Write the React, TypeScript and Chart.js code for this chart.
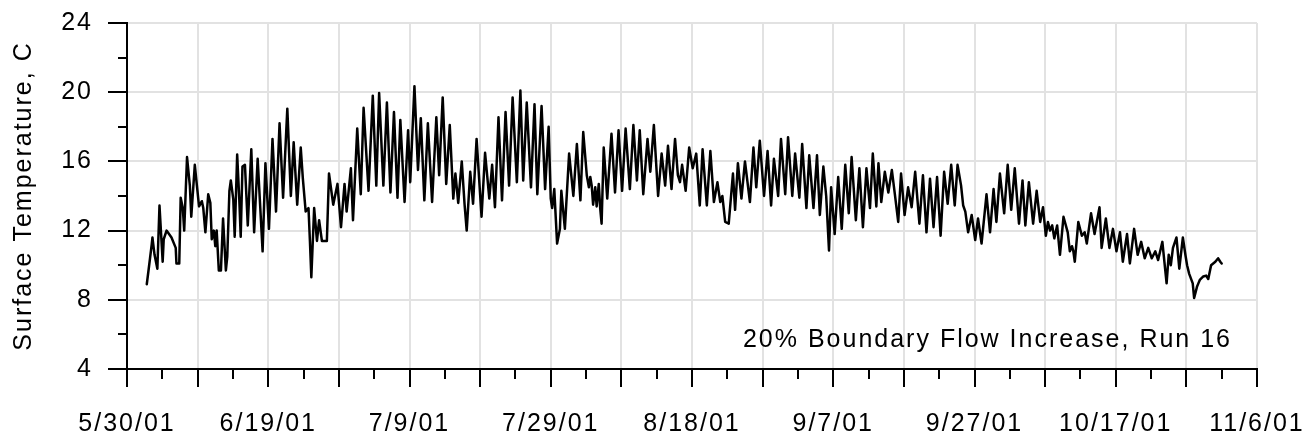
import React, { useEffect, useRef } from 'react';
import { Chart, registerables } from 'chart.js';

Chart.register(...registerables);

// ---- Text ----
const yAxisTitle = 'Surface Temperature, C';
const annotationText = '20% Boundary Flow Increase, Run 16';
const dateTickLabels = ['5/30/01', '6/19/01', '7/9/01', '7/29/01', '8/18/01', '9/7/01', '9/27/01', '10/17/01', '11/6/01'];

// ---- Data: [days since 5/30/01, surface temperature C] ----
const juneReadings: [number, number][] = [
  [2.8, 8.9], [3.2, 10.2], [3.5, 11.2], [3.6, 11.6], [3.9, 10.6], [4.3, 9.8], [4.6, 13.45], [5.05, 10.2], [5.2, 11.5], [5.6, 12.0],
  [6.3, 11.6], [6.9, 11.0], [7.0, 10.1], [7.4, 10.1], [7.6, 13.9], [7.9, 13.3], [8.1, 12.0], [8.5, 16.25], [8.9, 14.6], [9.1, 12.8],
  [9.6, 15.8], [9.9, 14.6], [10.2, 13.4], [10.6, 13.7], [10.8, 13.3], [11.1, 11.9], [11.5, 14.1], [11.8, 13.6], [12.0, 11.5], [12.3, 12.0],
  [12.5, 11.1], [12.7, 12.0], [13.0, 9.7], [13.3, 9.7], [13.6, 12.7], [14.0, 9.7], [14.2, 10.5], [14.5, 14.3], [14.7, 14.9], [15.05, 13.8],
  [15.25, 11.65], [15.6, 16.4], [15.9, 13.8], [16.1, 11.65], [16.35, 15.7], [16.7, 15.8], [17.1, 12.3], [17.6, 16.7], [18.0, 11.9], [18.5, 16.15],
  [19.2, 10.8], [19.6, 15.9], [20.1, 12.1], [20.6, 17.3], [21.1, 13.1], [21.6, 18.2], [22.1, 13.9], [22.7, 19.05], [23.2, 14.0], [23.6, 17.1],
  [24.1, 13.5], [24.6, 16.8], [24.9, 15.0], [25.3, 13.1], [25.7, 13.3], [25.9, 11.4], [26.1, 9.3], [26.5, 13.3], [26.9, 11.4], [27.2, 12.6],
  [27.6, 11.4], [28.3, 11.4], [28.6, 15.3], [29.2, 13.5], [29.8, 14.7], [30.3, 12.2], [30.8, 14.7], [31.1, 13.1], [31.7, 15.6],
];

const julyReadings: [number, number][] = [
  [32.0, 12.6], [32.6, 17.9], [33.1, 14.1], [33.5, 19.1], [34.2, 14.3], [34.8, 19.8], [35.3, 14.6], [35.7, 19.95], [36.3, 14.6], [36.8, 19.4],
  [37.3, 14.2], [37.8, 18.85], [38.3, 13.9], [38.7, 18.4], [39.3, 13.65], [39.8, 17.8], [40.1, 14.8], [40.7, 20.35], [41.2, 15.5], [41.6, 18.5],
  [42.1, 13.75], [42.6, 18.2], [43.2, 13.65], [43.8, 18.55], [44.2, 15.2], [44.7, 19.7], [45.2, 14.7], [45.7, 18.1], [46.2, 13.85], [46.5, 15.3],
  [46.9, 13.6], [47.4, 16.0], [47.8, 13.5], [48.1, 12.0], [48.6, 15.4], [49.0, 13.55], [49.5, 17.3], [50.2, 12.8], [50.7, 16.5], [51.3, 13.85],
  [51.7, 15.8], [52.1, 13.35], [52.6, 18.55], [53.1, 13.75], [53.6, 18.85], [54.1, 14.6], [54.6, 19.7], [55.2, 14.8], [55.7, 20.1], [56.1, 14.9],
  [56.6, 19.4], [57.2, 14.5], [57.7, 19.3], [58.1, 14.1], [58.7, 19.2], [59.2, 14.4], [59.7, 18.0], [60.0, 13.85], [60.2, 13.3], [60.5, 14.4],
  [60.9, 11.25], [61.3, 12.1], [61.5, 14.3], [62.0, 12.1], [62.6, 16.45], [63.2, 14.0],
];

const augustReadings: [number, number][] = [
  [63.7, 17.0], [64.2, 13.75], [64.6, 17.7], [65.1, 15.2], [65.4, 14.5], [65.6, 15.1], [65.8, 14.6], [66.0, 13.5], [66.3, 14.5], [66.5, 13.4],
  [66.8, 14.7], [67.0, 13.3], [67.2, 12.4], [67.5, 16.8], [68.0, 13.85], [68.6, 17.6], [69.1, 14.2], [69.6, 17.8], [70.1, 14.3], [70.6, 17.9],
  [71.2, 14.4], [71.7, 18.1], [72.2, 14.9], [72.6, 17.8], [73.1, 14.1], [73.7, 17.3], [74.1, 15.4], [74.6, 18.1], [75.2, 14.0], [75.7, 16.45],
  [76.2, 14.6], [76.6, 16.9], [77.1, 14.4], [77.6, 17.3], [78.0, 15.2], [78.3, 14.8], [78.6, 15.8], [79.1, 14.3], [79.6, 16.8], [80.1, 15.6],
  [80.6, 16.45], [81.1, 13.45], [81.5, 16.7], [82.1, 13.45], [82.6, 16.6], [83.1, 13.65], [83.6, 14.8], [84.0, 13.65], [84.3, 14.0], [84.7, 12.5],
  [85.2, 12.4], [85.8, 15.3], [86.1, 13.2], [86.5, 15.9], [87.0, 13.85], [87.5, 16.0], [88.2, 13.65], [88.7, 16.8], [89.1, 14.5], [89.6, 17.2],
  [90.2, 14.0], [90.7, 16.6], [91.2, 13.45], [91.6, 16.15], [92.2, 14.0], [92.6, 17.3], [93.2, 14.1], [93.6, 17.4],
];

const septemberReadings: [number, number][] = [
  [94.2, 14.0], [94.6, 16.45], [95.2, 13.9], [95.6, 17.0], [96.2, 13.3], [96.6, 16.35], [97.2, 13.3], [97.7, 16.35], [98.1, 12.9], [98.6, 15.7],
  [99.0, 14.0], [99.4, 10.85], [99.7, 14.5], [100.2, 11.8], [100.7, 15.1], [101.2, 12.1], [101.7, 15.8], [102.2, 13.0], [102.6, 16.25], [103.2, 12.6],
  [103.7, 15.6], [104.2, 12.2], [104.7, 15.6], [105.2, 13.3], [105.6, 16.45], [106.1, 13.4], [106.4, 15.9], [106.8, 13.65], [107.3, 15.4], [107.8, 14.2],
  [108.3, 15.5], [108.8, 13.85], [109.2, 12.5], [109.6, 15.3], [110.1, 12.9], [110.6, 14.5], [111.1, 13.35], [111.6, 15.4], [112.2, 12.4], [112.7, 15.2],
  [113.2, 11.9], [113.7, 15.0], [114.2, 12.2], [114.7, 15.1], [115.2, 11.7], [115.7, 15.4], [116.2, 13.55], [116.7, 15.8], [117.2, 13.45], [117.6, 15.8],
  [118.1, 14.6], [118.4, 13.45], [118.7, 13.1], [119.1, 11.9], [119.6, 12.9], [120.1, 11.45], [120.5, 12.7], [121.0, 11.25], [121.7, 14.1], [122.2, 11.9],
  [122.7, 14.4], [123.1, 12.5], [123.6, 15.3], [124.2, 13.0],
];

const octoberReadings: [number, number][] = [
  [124.7, 15.8], [125.2, 13.2], [125.7, 15.6], [126.3, 12.4], [126.8, 14.9], [127.2, 12.3], [127.7, 14.8], [128.3, 12.4], [128.8, 14.3], [129.3, 12.5],
  [129.7, 13.35], [130.1, 11.7], [130.4, 12.5], [130.7, 12.0], [131.0, 12.3], [131.3, 11.55], [131.7, 12.3], [132.1, 10.6], [132.6, 12.8], [133.2, 11.9],
  [133.5, 10.8], [133.8, 11.1], [134.0, 10.8], [134.2, 10.2], [134.7, 12.5], [135.2, 11.7], [135.6, 11.9], [135.9, 11.25], [136.5, 13.0], [137.0, 11.8],
  [137.7, 13.35], [138.0, 11.0], [138.6, 12.7], [139.1, 11.0], [139.6, 12.1], [140.1, 10.8], [140.6, 11.9], [141.0, 10.2], [141.6, 11.8], [142.0, 10.1],
  [142.6, 12.1], [143.1, 10.6], [143.6, 11.35], [144.1, 10.4], [144.6, 11.0], [145.1, 10.4], [145.6, 10.8], [146.0, 10.3], [146.6, 11.35], [147.2, 8.95],
  [147.5, 10.6], [147.8, 10.0], [148.1, 11.0], [148.6, 11.6], [149.0, 9.8], [149.5, 11.6], [149.9, 10.5], [150.1, 10.0], [150.4, 9.5], [150.9, 8.95],
  [151.1, 8.1], [151.5, 8.75], [151.7, 8.95], [151.9, 9.15], [152.4, 9.35], [152.8, 9.4], [153.1, 9.2], [153.5, 10.0], [154.1, 10.2], [154.5, 10.4],
  [154.8, 10.2], [155.0, 10.1],
];

const FONT_FAMILY = '"Liberation Sans", Arial, Helvetica, sans-serif';
const FONT_SIZE = 25;
const LETTER_SPACING = '2px';
const GRID_COLOR = '#e2e2e2';

const letterSpacingPlugin = {
  id: 'letterSpacing',
  beforeLayout(chart: any) {
    chart.ctx.letterSpacing = LETTER_SPACING;
  },
  beforeDraw(chart: any) {
    chart.ctx.letterSpacing = LETTER_SPACING;
  },
};

const tickMarksPlugin = {
  id: 'tickMarks',
  afterDraw(chart: any) {
    const { ctx, chartArea, scales } = chart;
    const xs = scales.x;
    const ys = scales.y;
    ctx.save();
    ctx.strokeStyle = '#000';
    ctx.lineWidth = 2;
    ctx.beginPath();
    for (let v = xs.min; v <= xs.max; v += 5) {
      const px = Math.round(xs.getPixelForValue(v));
      const len = v % 10 === 0 ? 18 : 10;
      ctx.moveTo(px, chartArea.bottom);
      ctx.lineTo(px, chartArea.bottom + len);
    }
    for (let v = ys.min; v <= ys.max; v += 2) {
      const py = Math.round(ys.getPixelForValue(v));
      const len = v % 4 === 0 ? 19 : 9;
      ctx.moveTo(chartArea.left, py);
      ctx.lineTo(chartArea.left - len, py);
    }
    ctx.stroke();

    ctx.letterSpacing = LETTER_SPACING;
    ctx.font = `${FONT_SIZE}px ${FONT_FAMILY}`;
    ctx.fillStyle = '#000';
    ctx.textAlign = 'right';
    ctx.textBaseline = 'middle';
    ctx.fillText(annotationText, chartArea.right - 25, chartArea.bottom - 29);
    ctx.restore();
  },
};

export default function App() {
  const canvasRef = useRef<HTMLCanvasElement | null>(null);

  useEffect(() => {
    const canvas = canvasRef.current;
    if (!canvas) return;
    const points = [
      ...juneReadings,
      ...julyReadings,
      ...augustReadings,
      ...septemberReadings,
      ...octoberReadings,
    ].map(([x, y]) => ({ x, y }));

    const font = { family: FONT_FAMILY, size: FONT_SIZE };

    const chart = new Chart(canvas, {
      type: 'line',
      data: {
        datasets: [
          {
            data: points,
            borderColor: '#000',
            borderWidth: 2.5,
            borderJoinStyle: 'round',
            borderCapStyle: 'round',
            pointRadius: 0,
            tension: 0,
            fill: false,
          },
        ],
      },
      options: {
        responsive: false,
        animation: false,
        layout: { padding: { left: 0, right: 58, top: 23, bottom: 0 } },
        plugins: {
          legend: { display: false },
          tooltip: { enabled: false },
        },
        scales: {
          x: {
            type: 'linear',
            min: 0,
            max: 160,
            ticks: {
              stepSize: 10,
              autoSkip: false,
              maxRotation: 0,
              minRotation: 0,
              padding: 40,
              color: '#000',
              font,
              callback: (v: any) => (Number(v) % 20 === 0 ? dateTickLabels[Number(v) / 20] : ''),
            },
            grid: {
              drawTicks: false,
              color: GRID_COLOR,
              lineWidth: 2,
            },
            border: { color: '#000', width: 2 },
            afterFit: (s: any) => {
              s.height = 70;
              s.paddingLeft = 0;
              s.paddingRight = 0;
            },
          },
          y: {
            type: 'linear',
            min: 4,
            max: 24,
            ticks: {
              stepSize: 2,
              autoSkip: false,
              padding: 34,
              color: '#000',
              font,
              callback: (v: any) => (Number(v) % 4 === 0 ? String(v) : ''),
            },
            grid: {
              drawTicks: false,
              color: (c: any) => (c.tick && c.tick.value % 4 === 0 ? GRID_COLOR : 'rgba(0,0,0,0)'),
              lineWidth: 2,
            },
            border: { color: '#000', width: 2 },
            title: {
              display: true,
              text: yAxisTitle,
              color: '#000',
              font,
              padding: { top: 9, bottom: 0 },
            },
            afterFit: (s: any) => {
              s.width = 127;
              s.paddingTop = 0;
              s.paddingBottom = 0;
            },
          },
        },
      },
      plugins: [letterSpacingPlugin, tickMarksPlugin],
    } as any);

    return () => chart.destroy();
  }, []);

  return (
    <div style={{ position: 'absolute', left: 0, top: 0, width: 1315, height: 439, background: '#fff' }}>
      <canvas ref={canvasRef} width={1315} height={439} style={{ display: 'block' }} />
    </div>
  );
}
